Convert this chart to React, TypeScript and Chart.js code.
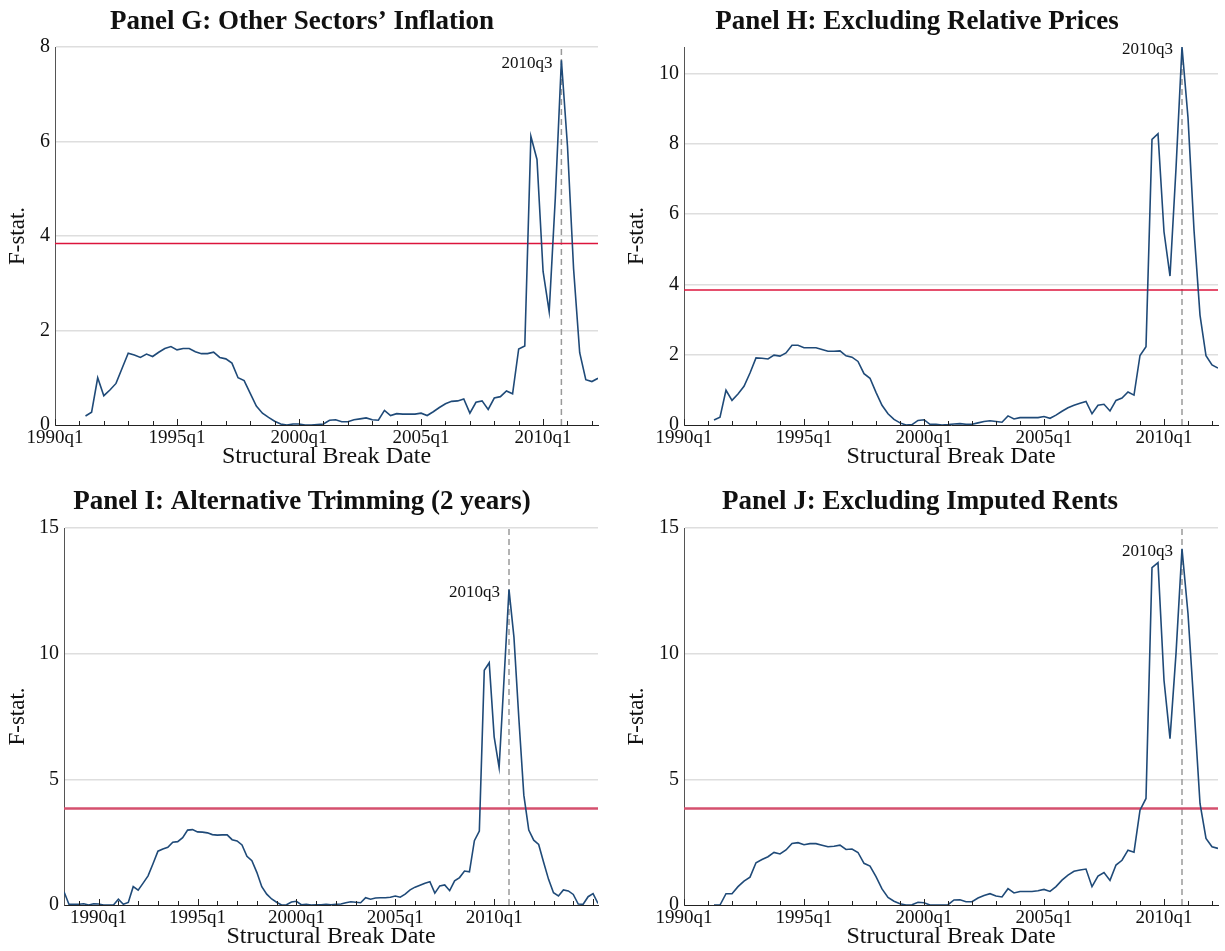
import React, { useEffect, useRef } from "react";
import { Chart, registerables } from "chart.js";

Chart.register(...registerables);

// ---------------- data ----------------
// Quarterly dates are written "YYYYqN"; on the axis a quarter sits at YYYY + N/4.
const panelGStart = "1991q1";
const panelGValues = [
  0.19, 0.27, 1.0, 0.62, 0.74, 0.88, 1.2, 1.52, 1.48, 1.43,
  1.5, 1.45, 1.54, 1.62, 1.66, 1.59, 1.62, 1.62, 1.55, 1.51,
  1.51, 1.54, 1.43, 1.4, 1.31, 1.0, 0.94, 0.67, 0.4, 0.25,
  0.16, 0.08, 0.02, 0.0, 0.02, 0.02, 0.0, 0.0, 0.01, 0.02,
  0.1, 0.11, 0.07, 0.07, 0.11, 0.13, 0.15, 0.11, 0.1, 0.31,
  0.2, 0.24, 0.23, 0.23, 0.23, 0.25, 0.2, 0.28, 0.37, 0.45,
  0.5, 0.51, 0.55, 0.25, 0.48, 0.51, 0.33, 0.57, 0.6, 0.72,
  0.66, 1.61, 1.67, 6.11, 5.62, 3.25, 2.4, 4.8, 7.72, 5.9,
  3.3, 1.53, 0.96, 0.92, 0.99,
];

const panelHStart = "1991q1";
const panelHValues = [
  0.14, 0.22, 0.99, 0.7, 0.88, 1.1, 1.48, 1.91, 1.9, 1.88,
  1.99, 1.96, 2.05, 2.27, 2.27, 2.2, 2.2, 2.2, 2.15, 2.1,
  2.1, 2.11, 1.97, 1.93, 1.81, 1.46, 1.33, 0.93, 0.56, 0.32,
  0.16, 0.06, 0.0, 0.01, 0.13, 0.15, 0.02, 0.02, 0.0, 0.01,
  0.03, 0.04, 0.02, 0.02, 0.06, 0.1, 0.12, 0.1, 0.08, 0.26,
  0.17, 0.21, 0.21, 0.21, 0.21, 0.24, 0.19, 0.28, 0.39, 0.49,
  0.56, 0.62, 0.67, 0.32, 0.56, 0.59, 0.4, 0.7, 0.77, 0.94,
  0.85, 1.98, 2.23, 8.13, 8.29, 5.5, 4.24, 7.3, 10.76, 8.75,
  5.55, 3.13, 1.97, 1.71, 1.62,
];

const panelIStart = "1988q1";
const panelIValues = [
  0.53, 0.03, 0.03, 0.03, 0.05, 0.0, 0.05, 0.04, 0.0, 0.0,
  0.0, 0.23, 0.03, 0.1, 0.73, 0.59, 0.87, 1.16, 1.64, 2.14,
  2.23, 2.3, 2.5, 2.52, 2.68, 2.98, 3.0, 2.91, 2.9, 2.87,
  2.8, 2.78, 2.79, 2.79, 2.6, 2.55, 2.39, 1.94, 1.76, 1.3,
  0.73, 0.43, 0.24, 0.11, 0.0, 0.01, 0.12, 0.15, 0.01, 0.03,
  0.0, 0.01, 0.01, 0.03, 0.01, 0.03, 0.04, 0.09, 0.13, 0.11,
  0.09, 0.29, 0.23, 0.28, 0.29, 0.29, 0.31, 0.36, 0.31, 0.43,
  0.6, 0.71, 0.79, 0.87, 0.93, 0.47, 0.76, 0.8, 0.57, 0.96,
  1.09, 1.35, 1.32, 2.56, 2.94, 9.34, 9.64, 6.69, 5.47, 9.0,
  12.55, 10.66, 7.4, 4.37, 2.98, 2.58, 2.41, 1.7, 1.02, 0.49,
  0.36, 0.6, 0.56, 0.42, 0.04, 0.03, 0.33, 0.45, 0.06,
];

const panelJStart = "1991q1";
const panelJValues = [
  0.0, 0.0, 0.45, 0.45, 0.73, 0.95, 1.11, 1.68, 1.81, 1.92,
  2.09, 2.03, 2.19, 2.45, 2.48, 2.4, 2.44, 2.44, 2.38, 2.32,
  2.34, 2.38, 2.21, 2.23, 2.09, 1.66, 1.55, 1.13, 0.64, 0.3,
  0.15, 0.05, 0.0, 0.01, 0.11, 0.09, 0.0, 0.0, 0.0, 0.01,
  0.2, 0.21, 0.13, 0.13, 0.28, 0.38, 0.45, 0.36, 0.32, 0.65,
  0.48, 0.54, 0.54, 0.54, 0.57, 0.62, 0.54, 0.73, 0.99, 1.19,
  1.34, 1.39, 1.43, 0.73, 1.15, 1.29, 0.98, 1.59, 1.78, 2.18,
  2.1, 3.77, 4.24, 13.42, 13.62, 8.94, 6.62, 10.0, 14.17, 11.59,
  7.88, 4.04, 2.65, 2.32, 2.25,
];

const breakDate = "2010q3";
const criticalValue = 3.84;

const xTickYears = [1990, 1995, 2000, 2005, 2010];
const xRangeShort = [1990, 2012.25];
const xRangeLong = [1988.25, 2015.25];

const yTicksG = [0, 2, 4, 6, 8];
const yTicksH = [0, 2, 4, 6, 8, 10];
const yTicksIJ = [0, 5, 10, 15];
const yMaxG = 8;
const yMaxH = 10.76;
const yMaxIJ = 15;

const titles = [
  "Panel G: Other Sectors\u2019 Inflation",
  "Panel H: Excluding Relative Prices",
  "Panel I: Alternative Trimming (2 years)",
  "Panel J: Excluding Imputed Rents",
];

// ---------------- helpers ----------------
const FONT = '"Liberation Serif", "Times New Roman", serif';
const quarterToT = (s: string) => {
  const [y, q] = s.split("q").map(Number);
  return y + q / 4;
};

const decorPlugin = {
  id: "decor",
  afterDraw(chart: any, _args: any, opts: any) {
    const { ctx, chartArea } = chart;
    const xs = chart.scales.x;
    const ys = chart.scales.y;
    ctx.save();
    ctx.strokeStyle = "#222";
    ctx.lineWidth = 1;
    for (let yr = Math.ceil(xs.min); yr <= Math.floor(xs.max); yr++) {
      const px = Math.round(xs.getPixelForValue(yr)) + 0.5;
      const len = yr % 5 === 0 ? 6 : 4;
      ctx.beginPath();
      ctx.moveTo(px, chartArea.bottom);
      ctx.lineTo(px, chartArea.bottom - len);
      ctx.stroke();
    }
    const px = xs.getPixelForValue(opts.peakX);
    const py = ys.getPixelForValue(opts.peakY);
    ctx.font = `17px ${FONT}`;
    ctx.fillStyle = "#111";
    ctx.textAlign = "right";
    ctx.textBaseline = "middle";
    ctx.fillText(opts.label, px - 9, py + 3);
    ctx.restore();
  },
};

type PanelProps = {
  left: number;
  top: number;
  width: number;
  height: number;
  title: string;
  start: string;
  values: number[];
  xRange: number[];
  yTicks: number[];
  yMax: number;
  leftPad: number;
  yAxisWidth: number;
  rightPad: number;
  titlePadTop: number;
  titlePadBottom: number;
  xAxisHeight: number;
  xTitlePadBottom: number;
  yTitlePadTop: number;
  redColor: string;
  redWidth: number;
};

function Panel(p: PanelProps) {
  const ref = useRef<HTMLCanvasElement | null>(null);
  useEffect(() => {
    if (!ref.current) return;
    const t0 = quarterToT(p.start);
    const pts = p.values.map((v, i) => ({ x: t0 + i * 0.25, y: v }));
    const peakX = quarterToT(breakDate);
    const peakIdx = Math.round((peakX - t0) / 0.25);
    const peakY = p.values[peakIdx];
    const chart = new Chart(ref.current, {
      type: "line",
      data: {
        datasets: [
          {
            data: pts,
            borderColor: "#1f4a78",
            borderWidth: 1.6,
            pointRadius: 0,
            tension: 0,
            fill: false,
          },
          {
            data: [
              { x: p.xRange[0], y: criticalValue },
              { x: p.xRange[1], y: criticalValue },
            ],
            borderColor: p.redColor,
            borderWidth: p.redWidth,
            pointRadius: 0,
            fill: false,
          },
          {
            data: [
              { x: peakX, y: 0 },
              { x: peakX, y: p.yMax },
            ],
            borderColor: "#9a9a9a",
            borderWidth: 1.5,
            borderDash: [6, 4],
            pointRadius: 0,
            fill: false,
          },
        ],
      },
      options: {
        animation: false,
        responsive: false,
        maintainAspectRatio: false,
        devicePixelRatio: 1,
        layout: {
          padding: { left: p.leftPad, right: p.rightPad, top: 0, bottom: 0 },
          autoPadding: false,
        } as any,
        plugins: {
          legend: { display: false },
          tooltip: { enabled: false },
          title: {
            display: true,
            text: p.title,
            color: "#111",
            font: { family: FONT, size: 27, weight: "bold", lineHeight: 1.2 },
            padding: { top: p.titlePadTop, bottom: p.titlePadBottom },
          },
          decor: { peakX, peakY, label: breakDate },
        } as any,
        scales: {
          x: {
            type: "linear",
            min: p.xRange[0],
            max: p.xRange[1],
            afterBuildTicks: (s: any) => {
              s.ticks = xTickYears.map((v) => ({ value: v }));
            },
            afterFit: (s: any) => {
              s.height = p.xAxisHeight;
            },
            grid: { display: false, drawTicks: false },
            border: { display: true, color: "#222", width: 1 },
            ticks: {
              autoSkip: false,
              maxRotation: 0,
              padding: 2,
              color: "#111",
              font: { family: FONT, size: 19 },
              callback: (v: any) => `${v}q1`,
            },
            title: {
              display: true,
              text: "Structural Break Date",
              color: "#111",
              font: { family: FONT, size: 24, lineHeight: 1 },
              padding: { top: 0, bottom: p.xTitlePadBottom },
            },
          },
          y: {
            type: "linear",
            min: 0,
            max: p.yMax,
            afterBuildTicks: (s: any) => {
              s.ticks = p.yTicks.map((v) => ({ value: v }));
            },
            afterFit: (s: any) => {
              s.width = p.yAxisWidth;
            },
            grid: {
              drawTicks: false,
              lineWidth: 1.5,
              color: (c: any) => (c.tick && c.tick.value === 0 ? "rgba(0,0,0,0)" : "#dedede"),
            },
            border: { display: true, color: "#555", width: 1 },
            ticks: {
              padding: 5,
              color: "#111",
              font: { family: FONT, size: 20 },
            },
            title: {
              display: true,
              text: "F-stat.",
              color: "#111",
              font: { family: FONT, size: 23, lineHeight: 1 },
              padding: { top: p.yTitlePadTop, bottom: 0 },
            },
          },
        },
      },
      plugins: [decorPlugin as any],
    });
    return () => chart.destroy();
  }, []);
  return (
    <canvas
      ref={ref}
      width={p.width}
      height={p.height}
      style={{ position: "absolute", left: p.left, top: p.top, width: p.width, height: p.height }}
    />
  );
}

export default function App() {
  return (
    <div style={{ position: "absolute", left: 0, top: 0, width: 1225, height: 951, background: "#fff" }}>
      <Panel
        left={0} top={0} width={612} height={470}
        title={titles[0]} start={panelGStart} values={panelGValues}
        xRange={xRangeShort} yTicks={yTicksG} yMax={yMaxG}
        leftPad={6} yAxisWidth={49} rightPad={14}
        titlePadTop={5.8} titlePadBottom={8.8}
        xAxisHeight={45} xTitlePadBottom={1} yTitlePadTop={0.5}
        redColor="#dc143c" redWidth={1.5}
      />
      <Panel
        left={612} top={0} width={613} height={470}
        title={titles[1]} start={panelHStart} values={panelHValues}
        xRange={xRangeShort} yTicks={yTicksH} yMax={yMaxH}
        leftPad={4} yAxisWidth={68} rightPad={7}
        titlePadTop={5.8} titlePadBottom={8.8}
        xAxisHeight={45} xTitlePadBottom={1} yTitlePadTop={9.5}
        redColor="#dc143c" redWidth={1.5}
      />
      <Panel
        left={0} top={476} width={612} height={475}
        title={titles[2]} start={panelIStart} values={panelIValues}
        xRange={xRangeLong} yTicks={yTicksIJ} yMax={yMaxIJ}
        leftPad={6} yAxisWidth={58} rightPad={14}
        titlePadTop={9.8} titlePadBottom={9.8}
        xAxisHeight={46} xTitlePadBottom={2} yTitlePadTop={0.5}
        redColor="#d5506e" redWidth={2.5}
      />
      <Panel
        left={612} top={476} width={613} height={475}
        title={titles[3]} start={panelJStart} values={panelJValues}
        xRange={xRangeShort} yTicks={yTicksIJ} yMax={yMaxIJ}
        leftPad={10} yAxisWidth={62} rightPad={7}
        titlePadTop={9.8} titlePadBottom={9.8}
        xAxisHeight={46} xTitlePadBottom={2} yTitlePadTop={3.5}
        redColor="#d5506e" redWidth={2.5}
      />
    </div>
  );
}
